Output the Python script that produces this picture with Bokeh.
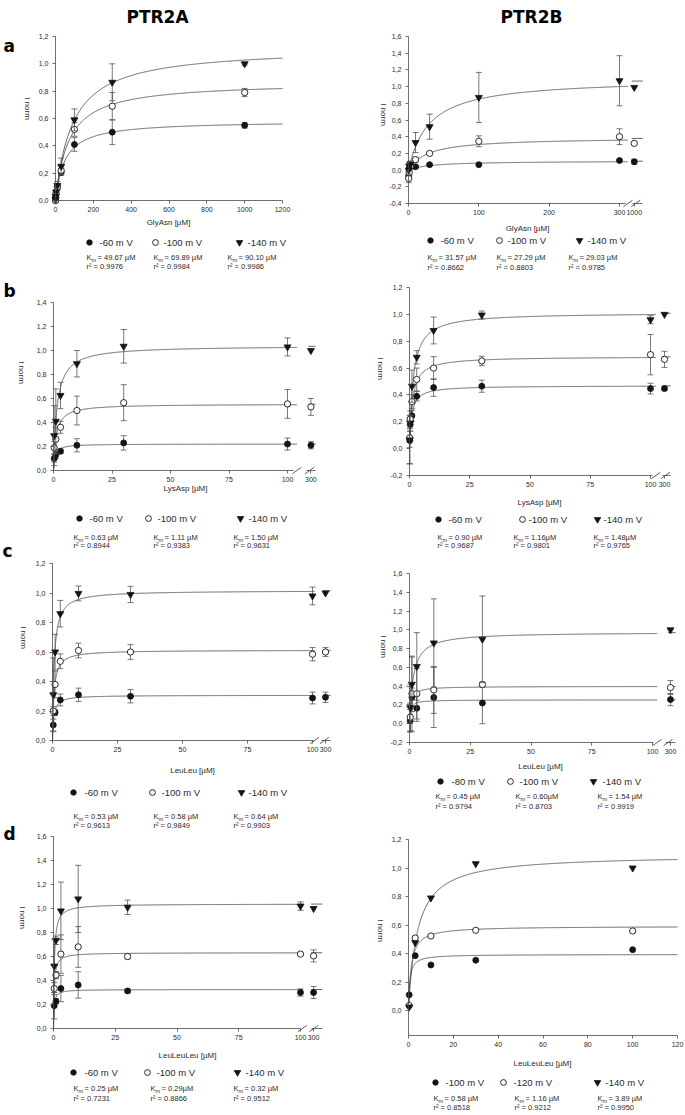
import math
import numpy as np
from bokeh.plotting import figure
from bokeh.models import Range1d, LinearAxis, FixedTicker, CustomJSTickFormatter
from bokeh.core.properties import value
from bokeh.embed import file_html
from bokeh.resources import INLINE

# ---------------- data ----------------
TITLES = ["PTR2A", "PTR2B"]
LETTERS = ["a", "b", "c", "d"]
VOLTS = ["-60 m V", "-100 m V", "-140 m V"]
VOLTS_C_R = ["-80 m V", "-100 m V", "-140 m V"]
VOLTS_D_R = ["-100 m V", "-120 m V", "-140 m V"]

# (a) GlyAsn - PTR2A
A_L_CONC = [0.3, 1, 3, 10, 30, 100, 300, 1000]
A_L_V60 = [0.00, 0.02, 0.05, 0.10, 0.205, 0.41, 0.50, 0.55]
A_L_E60 = [0.01, 0.01, 0.01, 0.02, 0.02, 0.05, 0.09, 0.02]
A_L_V100 = [0.00, 0.02, 0.05, 0.10, 0.22, 0.52, 0.69, 0.79]
A_L_E100 = [0.01, 0.01, 0.01, 0.02, 0.03, 0.05, 0.10, 0.03]
A_L_V140 = [0.01, 0.03, 0.06, 0.11, 0.25, 0.59, 0.865, 1.00]
A_L_E140 = [0.01, 0.01, 0.02, 0.03, 0.06, 0.08, 0.135, 0.01]
A_L_KM = [49.67, 69.89, 90.10]
A_L_IMAX = [0.583, 0.867, 1.12]
A_L_KM_TXT = ["49.67 µM", "69.89 µM", "90.10 µM"]
A_L_R2 = ["0.9976", "0.9984", "0.9986"]

# (a) GlyAsn - PTR2B
A_R_CONC = [0.3, 1, 3, 10, 30, 100, 300, 1000]
A_R_V60 = [-0.07, 0.02, 0.05, 0.04, 0.065, 0.065, 0.115, 0.10]
A_R_E60 = [0.05, 0.03, 0.03, 0.02, 0.01, 0.01, 0.01, 0.03]
A_R_V100 = [-0.10, -0.03, 0.05, 0.125, 0.20, 0.345, 0.40, 0.32]
A_R_E100 = [0.05, 0.04, 0.04, 0.03, 0.01, 0.065, 0.095, 0.0]
A_R_V140 = [0.00, 0.05, 0.07, 0.33, 0.52, 0.87, 1.07, 0.99]
A_R_E140 = [0.05, 0.05, 0.04, 0.12, 0.15, 0.30, 0.30, 0.0]
A_R_KM = [31.57, 27.29, 29.03]
A_R_IMAX = [0.11, 0.39, 1.097]
A_R_KM_TXT = ["31.57 µM", "27.29 µM", "29.03 µM"]
A_R_R2 = ["0.8662", "0.8803", "0.9785"]

# (b) LysAsp - PTR2A
B_L_CONC = [0.3, 1, 3, 10, 30, 100, 300]
B_L_V60 = [0.10, 0.13, 0.16, 0.21, 0.23, 0.22, 0.21]
B_L_E60 = [0.03, 0.03, 0.02, 0.055, 0.06, 0.05, 0.03]
B_L_V100 = [0.19, 0.26, 0.36, 0.50, 0.565, 0.555, 0.53]
B_L_E100 = [0.05, 0.10, 0.05, 0.12, 0.15, 0.12, 0.07]
B_L_V140 = [0.29, 0.41, 0.625, 0.89, 1.035, 1.03, 1.00]
B_L_E140 = [0.25, 0.27, 0.11, 0.11, 0.14, 0.075, 0.0]
B_L_KM = [0.63, 1.11, 1.50]
B_L_IMAX = [0.221, 0.554, 1.04]
B_L_KM_TXT = ["0.63 µM", "1.11 µM", "1.50 µM"]
B_L_R2 = ["0.8944", "0.9383", "0.9631"]

# (b) LysAsp - PTR2B
B_R_CONC = [0.1, 0.3, 1, 3, 10, 30, 100, 300]
B_R_V60 = [0.06, 0.18, 0.245, 0.39, 0.455, 0.465, 0.447, 0.447]
B_R_E60 = [0.17, 0.05, 0.04, 0.035, 0.065, 0.045, 0.04, 0.015]
B_R_V100 = [0.08, 0.22, 0.35, 0.515, 0.60, 0.653, 0.70, 0.665]
B_R_E100 = [0.07, 0.06, 0.05, 0.085, 0.085, 0.035, 0.15, 0.06]
B_R_V140 = [0.065, 0.19, 0.465, 0.68, 0.88, 0.995, 0.96, 1.00]
B_R_E140 = [0.18, 0.06, 0.12, 0.05, 0.10, 0.03, 0.03, 0.0]
B_R_KM = [0.90, 1.16, 1.48]
B_R_IMAX = [0.469, 0.686, 1.013]
B_R_KM_TXT = ["0.90 µM", "1.16µM", "1.48µM"]
B_R_R2 = ["0.9687", "0.9801", "0.9765"]

# (c) LeuLeu - PTR2A
C_L_CONC = [0.3, 1, 3, 10, 30, 100, 300]
C_L_V60 = [0.105, 0.19, 0.275, 0.31, 0.30, 0.288, 0.293]
C_L_E60 = [0.04, 0.02, 0.04, 0.045, 0.045, 0.04, 0.035]
C_L_V100 = [0.20, 0.38, 0.537, 0.61, 0.60, 0.585, 0.60]
C_L_E100 = [0.03, 0.09, 0.05, 0.05, 0.05, 0.045, 0.03]
C_L_V140 = [0.31, 0.60, 0.86, 0.997, 0.99, 0.98, 1.00]
C_L_E140 = [0.25, 0.12, 0.09, 0.05, 0.055, 0.06, 0.0]
C_L_KM = [0.53, 0.58, 0.64]
C_L_IMAX = [0.307, 0.613, 1.017]
C_L_KM_TXT = ["0.53 µM", "0.58 µM", "0.64 µM"]
C_L_R2 = ["0.9613", "0.9849", "0.9903"]

# (c) LeuLeu - PTR2B
C_R_CONC = [0.3, 1, 3, 10, 30, 300]
C_R_V80 = [0.03, 0.28, 0.165, 0.28, 0.22, 0.257]
C_R_E80 = [0.12, 0.10, 0.14, 0.32, 0.22, 0.065]
C_R_V100 = [0.07, 0.32, 0.32, 0.36, 0.417, 0.385]
C_R_E100 = [0.15, 0.40, 0.27, 0.25, 0.025, 0.075]
C_R_V140 = [0.17, 0.42, 0.61, 0.86, 0.90, 1.00]
C_R_E140 = [0.25, 0.29, 0.36, 0.47, 0.46, 0.0]
C_R_KM = [0.45, 0.60, 1.54]
C_R_IMAX = [0.254, 0.398, 0.975]
C_R_KM_TXT = ["0.45 µM", "0.60µM", "1.54 µM"]
C_R_R2 = ["0.9794", "0.8703", "0.9919"]

# (d) LeuLeuLeu - PTR2A
D_L_CONC = [0.3, 1, 3, 10, 30, 100, 300]
D_L_V60 = [0.19, 0.227, 0.333, 0.363, 0.313, 0.30, 0.30]
D_L_E60 = [0.11, 0.02, 0.11, 0.11, 0.015, 0.03, 0.05]
D_L_V100 = [0.333, 0.445, 0.62, 0.68, 0.60, 0.62, 0.605]
D_L_E100 = [0.05, 0.03, 0.16, 0.17, 0.02, 0.01, 0.05]
D_L_V140 = [0.52, 0.735, 0.98, 1.08, 1.01, 1.02, 1.00]
D_L_E140 = [0.22, 0.035, 0.24, 0.28, 0.06, 0.035, 0.0]
D_L_KM = [0.25, 0.29, 0.32]
D_L_IMAX = [0.325, 0.632, 1.038]
D_L_KM_TXT = ["0.25 µM", "0.29µM", "0.32 µM"]
D_L_R2 = ["0.7231", "0.8866", "0.9512"]

# (d) LeuLeuLeu - PTR2B
D_R_CONC = [0.3, 3, 10, 30, 100]
D_R_V100 = [0.11, 0.385, 0.32, 0.353, 0.427]
D_R_V120 = [0.035, 0.509, 0.523, 0.563, 0.558]
D_R_V140 = [0.025, 0.476, 0.79, 1.03, 1.00]
D_R_KM = [0.58, 1.16, 3.89]
D_R_IMAX = [0.394, 0.592, 1.094]
D_R_KM_TXT = ["0.58 µM", "1.16 µM", "3.89 µM"]
D_R_R2 = ["0.8518", "0.9212", "0.9950"]

# ---------------- style ----------------
FONT = "Liberation Sans"
BFONT = "DejaVu Sans"
INK = "#141414"
LINE = "#555555"
AXC = "#4a4a4a"
TXT = "#2a2a2a"
KINDS = ["filled", "open", "tri"]

# canvas area in page pixels
PX0, PX1 = 0, 684
PY0, PY1 = 0, 1114


def ticks(a, b, step):
    n = int(round((b - a) / step))
    return [round(a + i * step, 2) for i in range(n + 1)]


def mm(x, vmax, km):
    x = np.asarray(x, dtype=float)
    return vmax * x / (km + x)


STD_X = [0, 25, 50, 75, 100]

PANELS = [
    dict(key="aL", x0=55, xref=1200, xref_px=282, x_end=1200, ylim=(0.0, 1.2), y0=200, ytop=36,
         xticks=ticks(0, 1200, 200), yticks=ticks(0, 1.2, 0.2), xlabel="GlyAsn [µM]", xlab=(168, 222),
         brk=None, ylab=(27, 108),
         conc=A_L_CONC, vals=[A_L_V60, A_L_V100, A_L_V140], errs=[A_L_E60, A_L_E100, A_L_E140],
         km=A_L_KM, imax=A_L_IMAX, volts=VOLTS, km_txt=A_L_KM_TXT, r2=A_L_R2,
         leg=dict(mk=[89, 155, 239], tx=[99, 163, 247], kx=[86, 153, 227], my=242, ky=257, ry=266)),
    dict(key="aR", x0=408, xref=300, xref_px=619, x_end=333, ylim=(-0.4, 1.6), y0=203, ytop=36,
         xticks=[0, 100, 200, 300], yticks=ticks(-0.4, 1.6, 0.2), xlabel="GlyAsn [µM]", xlab=(527, 228),
         brk=dict(lin_max=300, conc=1000, pos=321, label="1000", main_end=308, start2=319,
                  slashes=[312, 323]),
         ylab=(383, 114),
         conc=A_R_CONC, vals=[A_R_V60, A_R_V100, A_R_V140], errs=[A_R_E60, A_R_E100, A_R_E140],
         km=A_R_KM, imax=A_R_IMAX, volts=VOLTS, km_txt=A_R_KM_TXT, r2=A_R_R2,
         leg=dict(mk=[430, 499, 579], tx=[440, 507, 587], kx=[427, 496, 568], my=240, ky=257, ry=267)),
    dict(key="bL", x0=53, xref=100, xref_px=287, x_end=112, ylim=(0.0, 1.4), y0=470, ytop=302,
         xticks=STD_X, yticks=ticks(0, 1.4, 0.2), xlabel="LysAsp [µM]", xlab=(185, 488),
         brk=dict(lin_max=100, conc=300, pos=110, label="300", main_end=102.5, start2=108,
                  slashes=[104, 109.5]),
         ylab=(21, 372),
         conc=B_L_CONC, vals=[B_L_V60, B_L_V100, B_L_V140], errs=[B_L_E60, B_L_E100, B_L_E140],
         km=B_L_KM, imax=B_L_IMAX, volts=VOLTS, km_txt=B_L_KM_TXT, r2=B_L_R2,
         leg=dict(mk=[79, 148, 240], tx=[89, 157, 248], kx=[73, 153, 233], my=518, ky=537, ry=545)),
    dict(key="bR", x0=409, xref=100, xref_px=650, x_end=108.3, ylim=(-0.2, 1.2), y0=475, ytop=287,
         xticks=STD_X, yticks=ticks(-0.2, 1.2, 0.2), xlabel="LysAsp [µM]", xlab=(539, 502),
         brk=dict(lin_max=100, conc=300, pos=105.8, label="300", main_end=100.8, start2=104.8,
                  slashes=[102.2, 106.2]),
         ylab=(380, 368),
         conc=B_R_CONC, vals=[B_R_V60, B_R_V100, B_R_V140], errs=[B_R_E60, B_R_E100, B_R_E140],
         km=B_R_KM, imax=B_R_IMAX, volts=VOLTS, km_txt=B_R_KM_TXT, r2=B_R_R2,
         leg=dict(mk=[438, 522, 597], tx=[448, 528, 603], kx=[437, 513, 593], my=519, ky=537, ry=545)),
    dict(key="cL", x0=52, xref=100, xref_px=312, x_end=107, ylim=(0.0, 1.2), y0=740, ytop=563,
         xticks=STD_X, yticks=ticks(0, 1.2, 0.2), xlabel="LeuLeu [µM]", xlab=(192, 770),
         brk=dict(lin_max=100, conc=300, pos=105, label="300", main_end=100.2, start2=103.6,
                  slashes=[100.8, 104.6]),
         ylab=(23, 637),
         conc=C_L_CONC, vals=[C_L_V60, C_L_V100, C_L_V140], errs=[C_L_E60, C_L_E100, C_L_E140],
         km=C_L_KM, imax=C_L_IMAX, volts=VOLTS, km_txt=C_L_KM_TXT, r2=C_L_R2,
         leg=dict(mk=[73, 152, 241], tx=[84, 161, 248], kx=[73, 153, 233], my=792, ky=816, ry=825)),
    dict(key="cR", x0=409, xref=100, xref_px=652, x_end=109.5, ylim=(-0.2, 1.6), y0=742, ytop=573,
         xticks=STD_X, yticks=ticks(-0.2, 1.6, 0.2), xlabel="LeuLeu [µM]", xlab=(540, 766),
         brk=dict(lin_max=100, conc=300, pos=107.4, label="300", main_end=100.5, start2=105.5,
                  slashes=[101.9, 106.4]),
         ylab=(383, 646),
         conc=C_R_CONC, vals=[C_R_V80, C_R_V100, C_R_V140], errs=[C_R_E80, C_R_E100, C_R_E140],
         km=C_R_KM, imax=C_R_IMAX, volts=VOLTS_C_R, km_txt=C_R_KM_TXT, r2=C_R_R2,
         leg=dict(mk=[440, 510, 593], tx=[451, 519, 602], kx=[435, 515, 597], my=781, ky=796, ry=806)),
    dict(key="dL", x0=53, xref=100, xref_px=300, x_end=108.8, ylim=(0.0, 1.6), y0=1028, ytop=836,
         xticks=STD_X, yticks=ticks(0, 1.6, 0.2), xlabel="LeuLeuLeu [µM]", xlab=(187, 1055),
         brk=dict(lin_max=100, conc=300, pos=105.3, label="300", main_end=100.2, start2=104.4,
                  slashes=[100.8, 105.4]),
         ylab=(22, 917),
         conc=D_L_CONC, vals=[D_L_V60, D_L_V100, D_L_V140], errs=[D_L_E60, D_L_E100, D_L_E140],
         km=D_L_KM, imax=D_L_IMAX, volts=VOLTS, km_txt=D_L_KM_TXT, r2=D_L_R2,
         leg=dict(mk=[73, 147, 237], tx=[84, 156, 245], kx=[73, 150, 233], my=1072, ky=1088, ry=1098)),
    dict(key="dR", x0=408, xref=120, xref_px=677, x_end=120, ylim=(-0.175, 1.2), y0=1035, ytop=839,
         xticks=ticks(0, 120, 20), yticks=ticks(0, 1.2, 0.2), xlabel="LeuLeuLeu [µM]", xlab=(542, 1063),
         brk=None, ylab=(380, 930),
         conc=D_R_CONC, vals=[D_R_V100, D_R_V120, D_R_V140], errs=None,
         km=D_R_KM, imax=D_R_IMAX, volts=VOLTS_D_R, km_txt=D_R_KM_TXT, r2=D_R_R2,
         leg=dict(mk=[435, 503, 597], tx=[445, 513, 605], kx=[433, 514, 597], my=1082, ky=1098, ry=1107)),
]

# page-level texts: titles and panel letters (x, baseline y)
TITLE_POS = [(157, 16), (531, 16)]
LETTER_POS = [(3, 45), (3, 290), (2, 550), (3, 833)]


# ---------------- one canvas, page pixels as default ranges ----------------
p = figure(width=PX1 - PX0, height=PY1 - PY0,
           x_range=Range1d(PX0, PX1), y_range=Range1d(PY1, PY0),
           x_axis_type=None, y_axis_type=None, toolbar_location=None,
           output_backend="svg", title=None,
           min_border=0, min_border_left=0, min_border_right=0,
           min_border_top=0, min_border_bottom=0)
p.outline_line_color = None
p.background_fill_color = "white"
p.border_fill_color = "white"

# each panel gets its own data ranges, placed on the page by its pixel geometry
xr, yr = {}, {}
for sp in PANELS:
    sx = (sp["xref_px"] - sp["x0"]) / sp["xref"]
    ymin, ymax = sp["ylim"]
    sy = (sp["y0"] - sp["ytop"]) / (ymax - ymin)
    sp["sx"], sp["sy"] = sx, sy
    xr["x_" + sp["key"]] = Range1d((PX0 - sp["x0"]) / sx, (PX1 - sp["x0"]) / sx)
    yr["y_" + sp["key"]] = Range1d(ymin - (PY1 - sp["y0"]) / sy, ymin + (sp["y0"] - PY0) / sy)
p.extra_x_ranges = xr
p.extra_y_ranges = yr


def draw_marker(xs, ys, kind, shrink=0.0, **kw):
    if kind == "filled":
        p.scatter(x=xs, y=ys, marker="circle", size=6 - shrink, fill_color=INK,
                  line_color=INK, line_width=0.8, **kw)
    elif kind == "open":
        p.scatter(x=xs, y=ys, marker="circle", size=6.3 - shrink, fill_color="white",
                  line_color=INK, line_width=0.9, **kw)
    else:
        p.scatter(x=xs, y=ys, marker="inverted_triangle", size=7 - shrink,
                  fill_color=INK, line_color=INK, line_width=0.8, **kw)


def style_axis(ax, standoff):
    ax.axis_line_color = AXC
    ax.axis_line_width = 0.8
    ax.major_tick_line_color = AXC
    ax.major_tick_line_width = 0.8
    ax.major_tick_in = 0
    ax.major_tick_out = 3
    ax.minor_tick_in = 0
    ax.minor_tick_out = 0
    ax.major_label_text_font = FONT
    ax.major_label_text_font_size = "7px"
    ax.major_label_text_color = TXT
    ax.major_label_standoff = standoff


def txt(x, y, s, size, font=FONT, style="normal", align="left", baseline="middle",
        color=TXT, angle=0.0):
    p.text(x=[x], y=[y], text=[s], text_font=value(font), text_font_size=value(size),
           text_font_style=style, text_color=color, text_align=align,
           text_baseline=baseline, angle=angle)


for sp in PANELS:
    xn, yn = "x_" + sp["key"], "y_" + sp["key"]
    rk = dict(x_range_name=xn, y_range_name=yn)
    ymin, ymax = sp["ylim"]
    sx = sp["sx"]

    yax = LinearAxis(fixed_location=0, bounds=(ymin, ymax),
                     ticker=FixedTicker(ticks=sp["yticks"], minor_ticks=[]),
                     formatter=CustomJSTickFormatter(code="return tick.toFixed(1).replace('.', ',');"),
                     **rk)
    style_axis(yax, 4)
    p.add_layout(yax, "left")

    brk = sp["brk"]
    if brk is None:
        xax = LinearAxis(fixed_location=ymin, bounds=(0, sp["x_end"]),
                         ticker=FixedTicker(ticks=sp["xticks"], minor_ticks=[]), **rk)
        style_axis(xax, 3)
        p.add_layout(xax, "below")
        curve_end = sp["x_end"]
    else:
        xax = LinearAxis(fixed_location=ymin, bounds=(0, brk["main_end"]),
                         ticker=FixedTicker(ticks=sp["xticks"], minor_ticks=[]), **rk)
        style_axis(xax, 3)
        p.add_layout(xax, "below")
        xax2 = LinearAxis(fixed_location=ymin, bounds=(brk["start2"], sp["x_end"]),
                          ticker=FixedTicker(ticks=[brk["pos"]], minor_ticks=[]),
                          formatter=CustomJSTickFormatter(code="return '%s';" % brk["label"]), **rk)
        style_axis(xax2, 3)
        p.add_layout(xax2, "below")
        p.scatter(x=brk["slashes"], y=[ymin, ymin], marker="dash", size=11, angle=0.62,
                  line_color=AXC, line_width=0.9, **rk)
        curve_end = brk["slashes"][0]

    # fitted Michaelis-Menten curves
    xs = np.concatenate([np.linspace(0, 5, 150), np.linspace(5, curve_end, 400)[1:]])
    for i in range(3):
        p.line(x=xs, y=mm(xs, sp["imax"][i], sp["km"][i]), line_color=LINE, line_width=0.9, **rk)
        if brk is not None:
            v = float(mm(brk["conc"], sp["imax"][i], sp["km"][i]))
            p.line(x=[brk["pos"] - 2.5 / sx, sp["x_end"]], y=[v, v], line_color=LINE,
                   line_width=0.9, **rk)

    # error bars and points
    for i in range(3):
        conc = sp["conc"]
        vals = sp["vals"][i]
        xd = [brk["pos"] if (brk is not None and c > brk["lin_max"]) else c for c in conc]
        if sp["errs"] is not None:
            errs = sp["errs"][i]
            xe = [x for x, e in zip(xd, errs) if e > 0]
            lo = [v - e for v, e in zip(vals, errs) if e > 0]
            hi = [v + e for v, e in zip(vals, errs) if e > 0]
            p.segment(x0=xe, y0=lo, x1=xe, y1=hi, line_color=LINE, line_width=0.8, **rk)
            p.scatter(x=xe + xe, y=lo + hi, marker="dash", size=6, line_color=LINE,
                      line_width=0.8, **rk)
        draw_marker(xd, vals, KINDS[i], **rk)

    # axis titles
    lx, ly = sp["ylab"]
    txt(lx, ly, "I norm", "8px", align="center", angle=-math.pi / 2)
    cx, cy = sp["xlab"]
    txt(cx, cy, sp["xlabel"], "8px", align="center")

    # legend below the panel
    L = sp["leg"]
    for i in range(3):
        draw_marker([L["mk"][i]], [L["my"]], KINDS[i], shrink=0.5)
        txt(L["tx"][i], L["my"], sp["volts"][i], "9.5px")
        kx = L["kx"][i]
        txt(kx, L["ky"], "K", "7.5px")
        txt(kx + 5.0, L["ky"] + 2, "m", "5.5px")
        txt(kx + 11.0, L["ky"], "= " + sp["km_txt"][i], "7.5px")
        txt(kx, L["ry"], "r² = " + sp["r2"][i], "7.5px")

for (x, y), s in zip(TITLE_POS, TITLES):
    txt(x, y, s, "17px", font=BFONT, style="bold", align="center", baseline="alphabetic",
        color="#000000")
for (x, y), s in zip(LETTER_POS, LETTERS):
    txt(x, y, s, "17px", font=BFONT, style="bold", align="left", baseline="alphabetic",
        color="#000000")

with open("out.html", "w") as f:
    f.write(file_html(p, INLINE))
